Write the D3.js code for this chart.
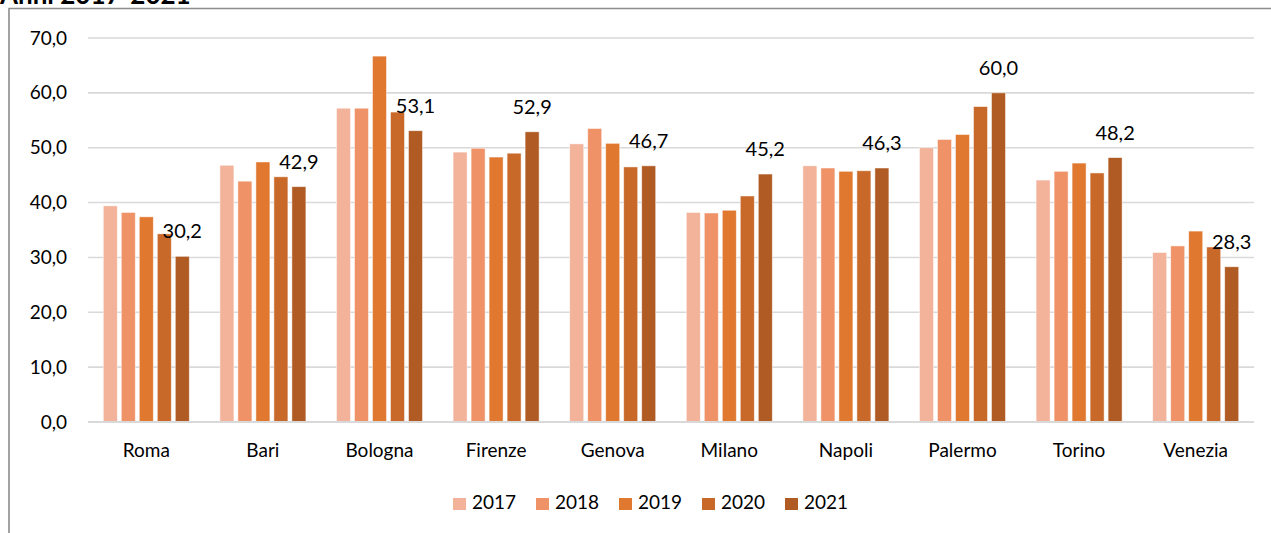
<!DOCTYPE html>
<html>
<head>
<meta charset="utf-8">
<script src="https://cdn.jsdelivr.net/npm/d3@7"></script>
<style>
    body { margin: 0; background: #fff; }
    svg text { font-family: Lato, 'Open Sans', sans-serif; fill: #000; }
</style>
</head>
<body>
<div id="chart"></div>
<script>
'use strict';

var cities = ['Roma', 'Bari', 'Bologna', 'Firenze', 'Genova', 'Milano', 'Napoli', 'Palermo', 'Torino', 'Venezia'];
var years = ['2017', '2018', '2019', '2020', '2021'];

var v2017 = [39.4, 46.8, 57.2, 49.2, 50.7, 38.2, 46.7, 50.0, 44.1, 30.9];
var v2018 = [38.2, 43.9, 57.2, 49.9, 53.5, 38.1, 46.3, 51.5, 45.7, 32.1];
var v2019 = [37.4, 47.4, 66.7, 48.3, 50.8, 38.6, 45.7, 52.4, 47.2, 34.8];
var v2020 = [34.3, 44.7, 56.5, 49.0, 46.5, 41.2, 45.8, 57.5, 45.4, 31.9];
var v2021 = [30.2, 42.9, 53.1, 52.9, 46.7, 45.2, 46.3, 60.0, 48.2, 28.3];

var yTicks = [0, 10, 20, 30, 40, 50, 60, 70];
var colors = ['#f3b29a', '#f09268', '#e07830', '#c8692a', '#b05b23'];
var title = 'Anni 2017-2021';

drawChart();

function drawChart() {
    var width = 1271;
    var height = 533;
    var left = 88, right = 1254, top = 38, bottom = 422;

    var series = [v2017, v2018, v2019, v2020, v2021];

    var svg = d3.select('#chart')
        .append('svg')
        .attr('width', width)
        .attr('height', height);

    // outer frame, cut off on the right and bottom like the picture
    svg.append('path')
        .attr('d', 'M9,' + height + 'V8.5H' + width)
        .attr('fill', 'none')
        .attr('stroke', '#8c8c8c')
        .attr('stroke-width', 1.6);

    // title sits mostly above the crop, only its lower edge shows
    svg.append('text')
        .attr('x', 0)
        .attr('y', 4)
        .style('font-weight', 'bold')
        .style('font-size', '26px')
        .text(title);

    var x = d3.scaleBand()
        .domain(cities)
        .range([left, right])
        .padding(0);

    var xInner = d3.scaleBand()
        .domain(years)
        .range([-43, 43])
        .paddingInner(0.222);

    var y = d3.scaleLinear()
        .domain([0, 70])
        .range([bottom, top]);

    var grid = svg.append('g');
    grid.selectAll('line')
        .data(yTicks)
        .enter()
        .append('line')
        .attr('x1', left)
        .attr('x2', right)
        .attr('y1', function(d) { return y(d); })
        .attr('y2', function(d) { return y(d); })
        .attr('stroke', '#d9d9d9')
        .attr('stroke-width', 1.6);

    var yAxis = d3.axisLeft(y)
        .tickValues(yTicks)
        .tickSize(0)
        .tickPadding(21)
        .tickFormat(function(d) { return d3.format('.1f')(d).replace('.', ','); });

    svg.append('g')
        .attr('transform', 'translate(' + left + ',0)')
        .call(yAxis)
        .call(function(g) { g.select('.domain').remove(); })
        .selectAll('text')
        .style('font-size', '19px')
        .attr('font-family', null);

    var groups = svg.selectAll('.city')
        .data(cities)
        .enter()
        .append('g')
        .attr('class', 'city')
        .attr('transform', function(d) {
            return 'translate(' + (x(d) + x.bandwidth() / 2) + ',0)';
        });

    groups.selectAll('rect')
        .data(function(d, i) {
            return years.map(function(yr, j) {
                return { year: yr, value: series[j][i], color: colors[j] };
            });
        })
        .enter()
        .append('rect')
        .attr('x', function(d) { return xInner(d.year); })
        .attr('width', xInner.bandwidth())
        .attr('y', function(d) { return y(d.value); })
        .attr('height', function(d) { return y(0) - y(d.value); })
        .attr('fill', function(d) { return d.color; })
        .attr('stroke', '#fff')
        .attr('stroke-opacity', 0.6)
        .attr('stroke-width', 0.8);

    // labels only on the 2021 bars
    groups.append('text')
        .attr('x', function() { return xInner('2021') + xInner.bandwidth() / 2; })
        .attr('y', function(d, i) { return y(v2021[i]) - 18; })
        .attr('text-anchor', 'middle')
        .style('font-size', '20px')
        .text(function(d, i) { return d3.format('.1f')(v2021[i]).replace('.', ','); });

    svg.append('line')
        .attr('x1', left)
        .attr('x2', right)
        .attr('y1', bottom)
        .attr('y2', bottom)
        .attr('stroke', '#d9d9d9')
        .attr('stroke-width', 2);

    var xAxis = d3.axisBottom(x)
        .tickSize(0)
        .tickPadding(22);

    svg.append('g')
        .attr('transform', 'translate(0,' + bottom + ')')
        .call(xAxis)
        .call(function(g) { g.select('.domain').remove(); })
        .selectAll('text')
        .style('font-size', '19px')
        .attr('font-family', null);

    var legendX = d3.scalePoint()
        .domain(years)
        .range([453, 785]);

    var legend = svg.selectAll('.legend')
        .data(years)
        .enter()
        .append('g')
        .attr('class', 'legend')
        .attr('transform', function(d) {
            return 'translate(' + legendX(d) + ',498)';
        });

    legend.append('rect')
        .attr('width', 13)
        .attr('height', 12)
        .attr('fill', function(d, i) { return colors[i]; });

    legend.append('text')
        .attr('x', 19)
        .attr('y', 11)
        .style('font-size', '19px')
        .text(function(d) { return d; });
}
</script>
</body>
</html>
